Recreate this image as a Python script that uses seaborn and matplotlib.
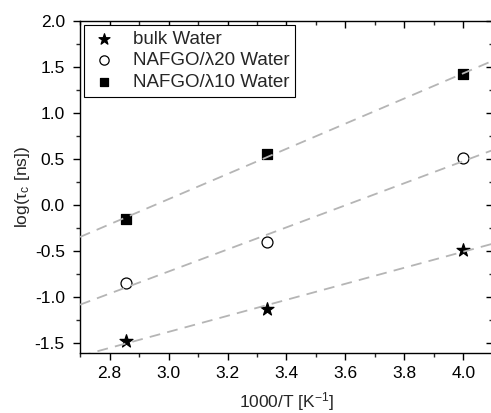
import numpy as np
import pandas as pd
import seaborn as sns
import matplotlib
matplotlib.use("Agg")
import matplotlib.pyplot as plt
from matplotlib.ticker import MultipleLocator, FormatStrFormatter

# inverse temperature (1000/T, K^-1)
inv_T = [2.857, 3.333, 4.0]

# log of rotational correlation time, log(tau_c [ns])
bulk_water = [-1.48, -1.13, -0.49]
nafgo_l20 = [-0.85, -0.40, 0.51]
nafgo_l10 = [-0.15, 0.55, 1.42]

series_names = ["bulk Water", "NAFGO/\u03bb20 Water", "NAFGO/\u03bb10 Water"]

df = pd.DataFrame({
    "x": inv_T * 3,
    "y": bulk_water + nafgo_l20 + nafgo_l10,
    "sample": [series_names[0]] * 3 + [series_names[1]] * 3 + [series_names[2]] * 3,
})

sns.set_style("ticks")
plt.rcParams["font.family"] = ["Liberation Sans", "DejaVu Sans"]
plt.rcParams["mathtext.fontset"] = "custom"
plt.rcParams["mathtext.rm"] = "Liberation Sans"
plt.rcParams["mathtext.it"] = "Liberation Sans"

fig = plt.figure(figsize=(4.91, 4.13), dpi=100)
ax = fig.add_axes([0.163, 0.145, 0.841, 0.804])

xlim = (2.7, 4.1)
ax.set_xlim(*xlim)
ax.set_ylim(-1.61, 2.0)

markers = {series_names[0]: "*", series_names[1]: "o", series_names[2]: "s"}
sizes = {series_names[0]: 95, series_names[1]: 62, series_names[2]: 48}
for name in series_names:
    sub = df[df["sample"] == name]
    face = "white" if markers[name] == "o" else "black"
    sns.scatterplot(data=sub, x="x", y="y", marker=markers[name], s=sizes[name],
                    color=face, edgecolor="black", linewidth=0.9, label=name,
                    ax=ax, zorder=2)

# linear fits drawn as dashed grey guide lines across the full x range
xx = np.array(xlim)
for name in series_names:
    sub = df[df["sample"] == name]
    k, b = np.polyfit(sub["x"], sub["y"], 1)
    ax.plot(xx, k * xx + b, ls=(0, (6, 4)), color="#b5b5b5", lw=1.3, zorder=3)

ax.set_xticks(np.arange(2.8, 4.01, 0.2))
ax.set_yticks(np.arange(-1.5, 2.01, 0.5))
ax.xaxis.set_minor_locator(MultipleLocator(0.1))
ax.yaxis.set_minor_locator(MultipleLocator(0.25))
ax.xaxis.set_major_formatter(FormatStrFormatter("%.1f"))
ax.yaxis.set_major_formatter(FormatStrFormatter("%.1f"))

for side in ["top", "right", "bottom", "left"]:
    ax.spines[side].set_visible(True)
    ax.spines[side].set_linewidth(1.0)
    ax.spines[side].set_color("black")

ax.tick_params(axis="both", which="major", labelsize=12.5, length=5, width=1,
               direction="out", colors="black")
ax.tick_params(axis="x", which="major", pad=4)
ax.tick_params(axis="y", which="major", pad=6)
ax.tick_params(axis="both", which="minor", length=3, width=1, direction="out")
ax.tick_params(top=True, right=True, which="both")

# top/right ticks point inward, bottom/left point outward
for t in ax.xaxis.get_major_ticks() + ax.xaxis.get_minor_ticks():
    t.tick2line.set_marker(matplotlib.lines.TICKDOWN)
for t in ax.yaxis.get_major_ticks() + ax.yaxis.get_minor_ticks():
    t.tick2line.set_marker(matplotlib.lines.TICKLEFT)

ax.set_xlabel("1000/T [K$^{-1}$]", fontsize=12.5, labelpad=7)
ax.set_ylabel(r"log($\tau_\mathrm{c}$ [ns])", fontsize=12.5, labelpad=2)

leg = ax.legend(loc="upper left", fontsize=13.5, frameon=True, fancybox=False,
                edgecolor="black", framealpha=1, borderpad=0.3, handletextpad=0.7,
                labelspacing=0.25, borderaxespad=0.2, handlelength=1.6,
                markerscale=0.85)
leg.get_frame().set_linewidth(0.8)

fig.savefig("out.png", dpi=100)
